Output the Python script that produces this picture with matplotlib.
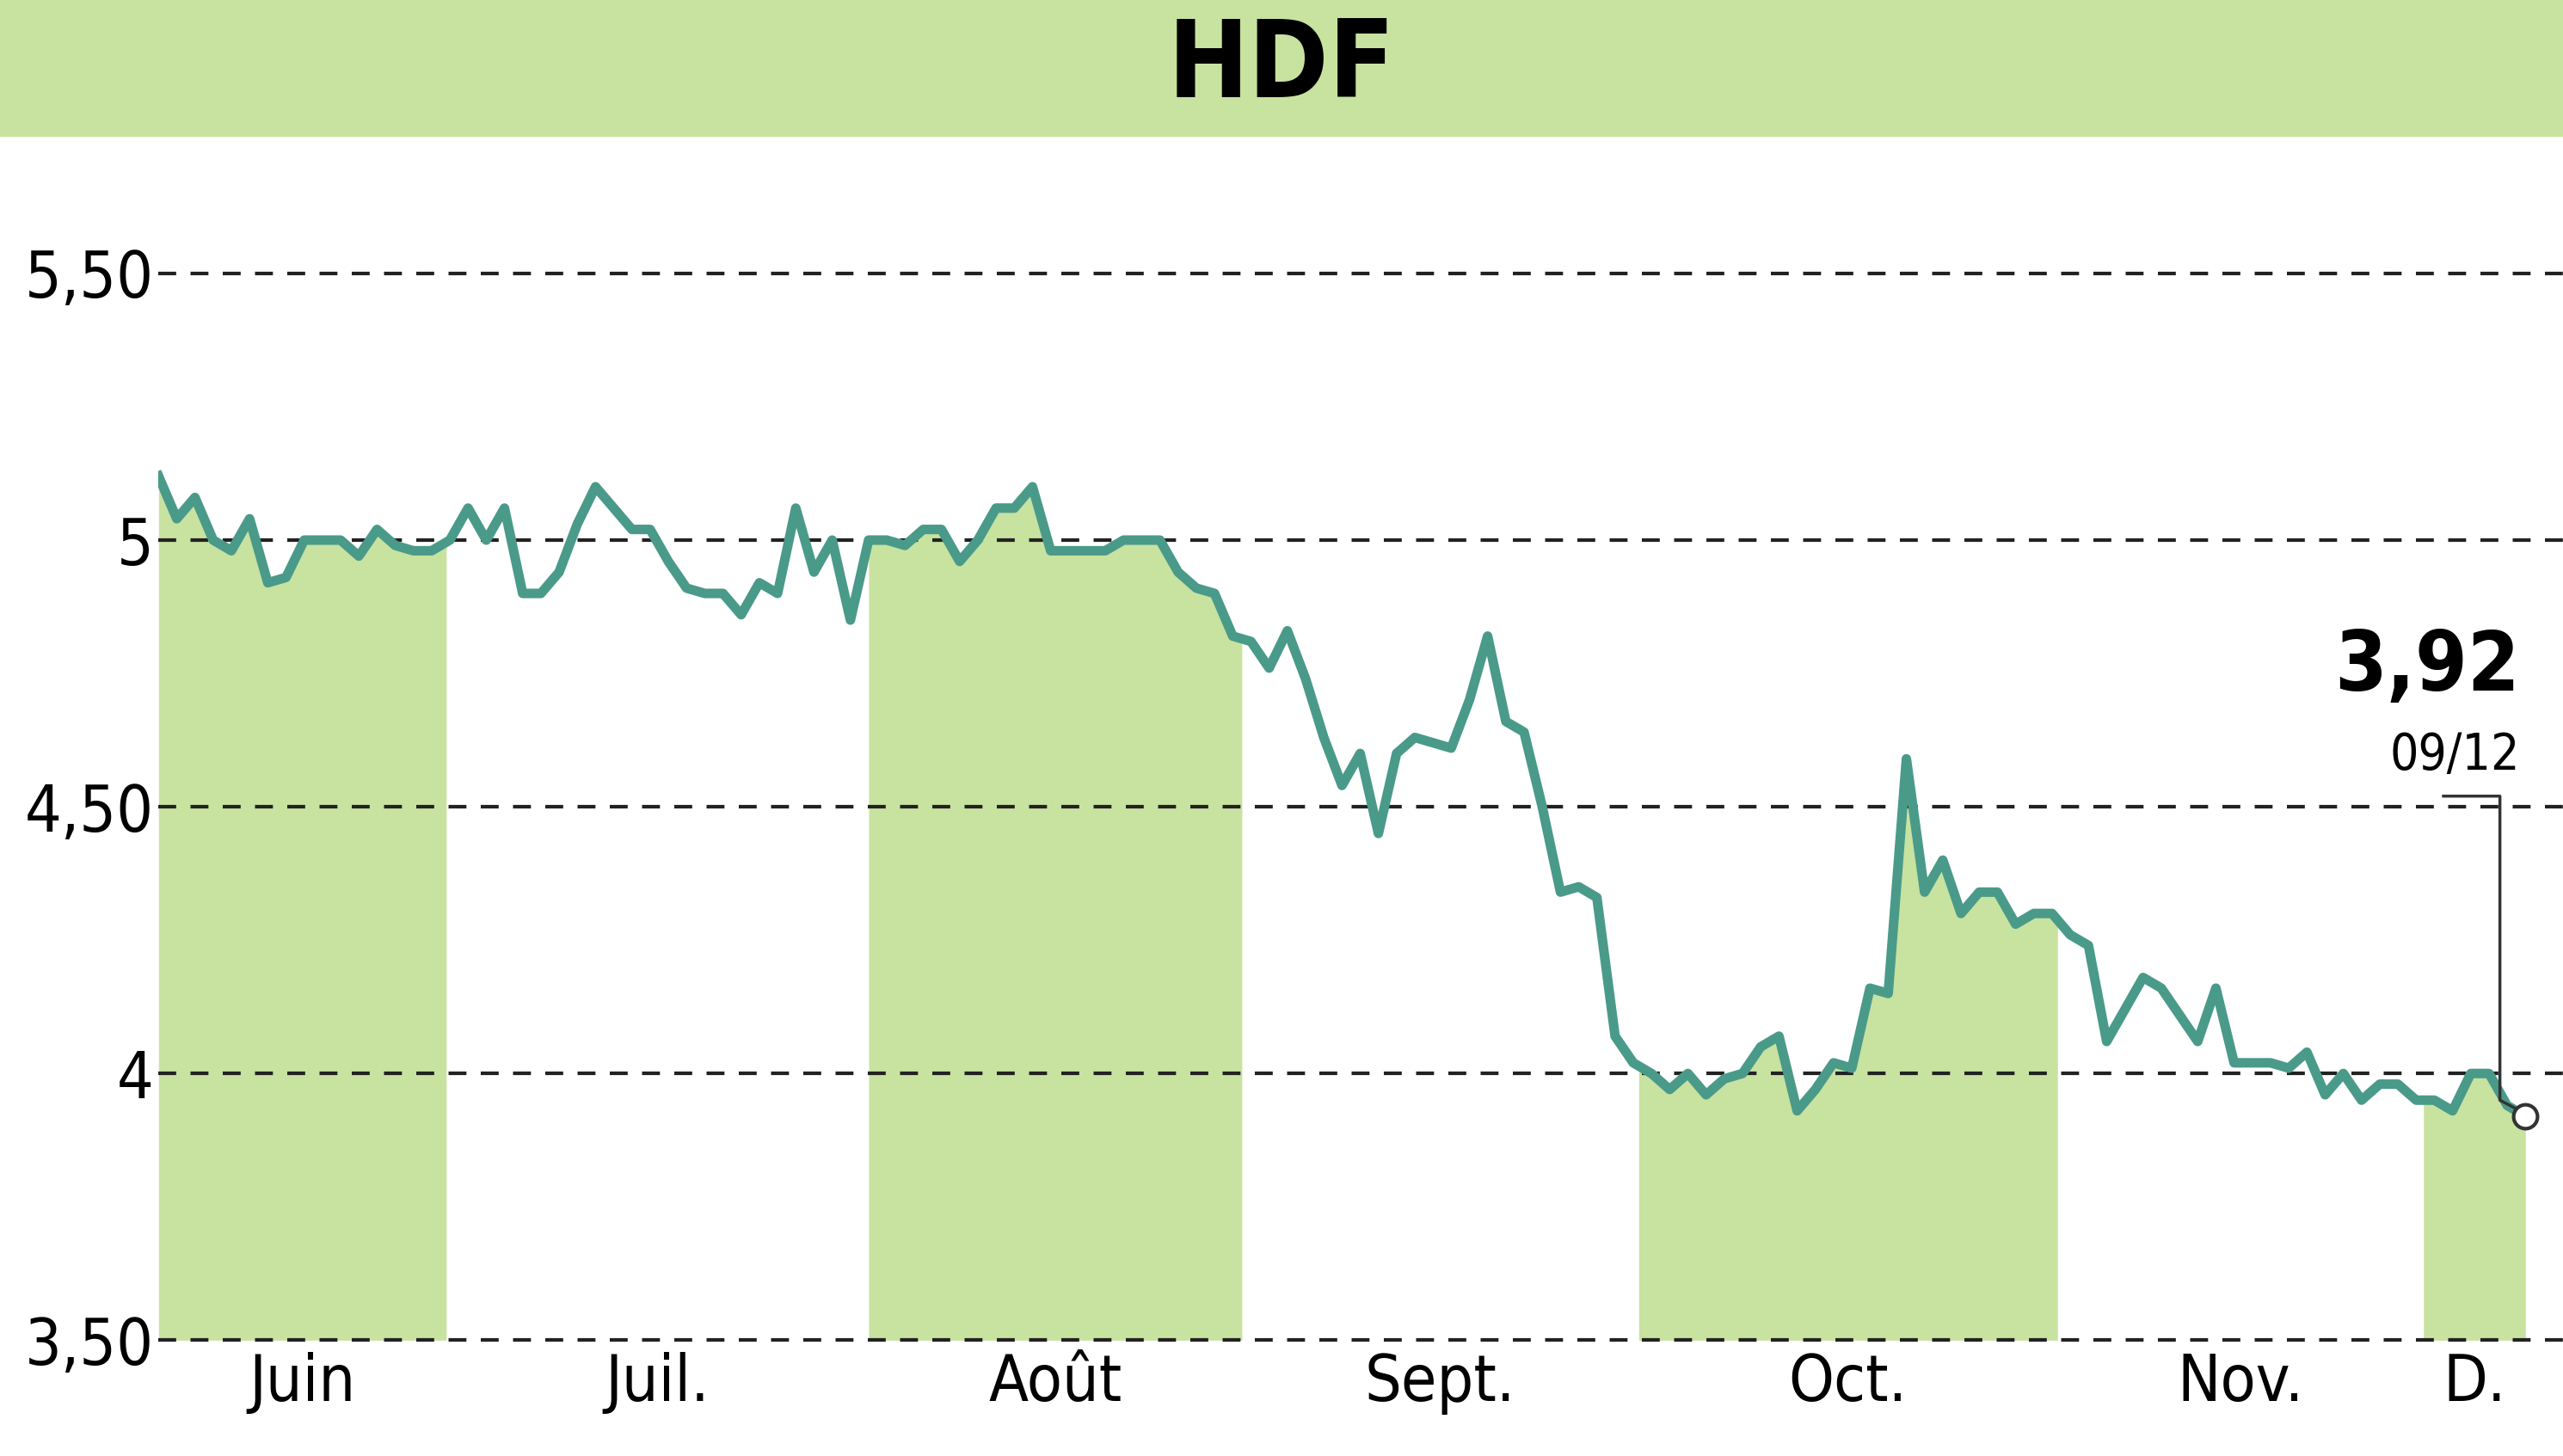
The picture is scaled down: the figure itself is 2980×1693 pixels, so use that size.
import matplotlib
matplotlib.use("Agg")
import matplotlib.pyplot as plt
import numpy as np

values = [5.12,5.04,5.08,5.00,4.98,5.04,4.92,4.93,5.00,5.00,5.00,4.97,5.02,4.99,4.98,4.98,
5.00,5.06,5.00,5.06,4.90,4.90,4.94,5.03,5.10,5.06,5.02,5.02,4.96,4.91,4.90,4.90,4.86,4.92,4.90,5.06,4.94,5.00,4.85,
5.00,5.00,4.99,5.02,5.02,4.96,5.00,5.06,5.06,5.10,4.98,4.98,4.98,4.98,5.00,5.00,5.00,4.94,4.91,4.90,4.82,
4.81,4.76,4.83,4.74,4.63,4.54,4.60,4.45,4.60,4.63,4.62,4.61,4.70,4.82,4.66,4.64,4.50,4.34,4.35,4.33,4.07,4.02,
4.00,3.97,4.00,3.96,3.99,4.00,4.05,4.07,3.93,3.97,4.02,4.01,4.16,4.15,4.59,4.34,4.40,4.30,4.34,4.34,4.28,4.30,4.30,
4.26,4.24,4.06,4.12,4.18,4.16,4.11,4.06,4.16,4.02,4.02,4.02,4.01,4.04,3.96,4.00,3.95,3.98,3.98,3.95,
3.95,3.93,4.00,4.00,3.94,3.92]
months = ["Juin","Juil.","Août","Sept.","Oct.","Nov.","D."]
month_bounds = [0,15.8,39,59.5,81.3,104.3,124.4,len(values)-1]
shaded = [True,False,True,False,True,False,True]
yticks = [3.5,4,4.5,5,5.5]
ylabels = ["3,50","4","4,50","5","5,50"]

green = "#c8e2a0"
lc = "#4a9a8a"
font = ["DejaVu Sans"]
plt.rcParams['font.family'] = font
plt.rcParams['font.stretch'] = 'condensed'

fig = plt.figure(figsize=(29.8,16.93), dpi=100)
fig.patches.append(plt.Rectangle((0,1-82/880),1,82/880,transform=fig.transFigure,color=green,zorder=0))
fig.text(0.5,1-41/880,"HDF",ha="center",va="center",fontsize=90,fontweight="bold")

ax = fig.add_axes([97/1568, 1-810/880, (1545-97)/1568, (810-133)/880])
x = np.arange(len(values))
v = np.array(values)
for i in range(len(months)):
    if shaded[i]:
        a, b = month_bounds[i], month_bounds[i+1]
        xx = np.linspace(a, b, 200)
        ax.fill_between(xx, 3.5, np.interp(xx, x, v), color=green, lw=0, zorder=1)
ax.plot(x, v, color=lc, lw=8, zorder=3, solid_joinstyle="round")
ax.plot(x[-1], v[-1], 'o', ms=20, mfc="white", mec="#333333", mew=3, zorder=5, clip_on=False)
ax.set_xlim(0, len(values)-1)
ax.set_ylim(3.5, 5.6)
for t in yticks:
    ax.plot([0, 1.02], [t, t], transform=ax.get_yaxis_transform(), ls=(0,(5,4)), color="#222222", lw=3, clip_on=False, zorder=2)
ax.set_yticks(yticks)
ax.set_yticklabels(ylabels)
centers = [(month_bounds[i]+month_bounds[i+1])/2 for i in range(len(months))]
ax.set_xticks(centers)
ax.set_xticklabels(months)
ax.tick_params(length=0, labelsize=54, pad=10)
ax.tick_params(axis='y', pad=4)
for s in ax.spines.values():
    s.set_visible(False)
ax.text(len(values)-1.3, 4.685, "3,92", ha="right", va="bottom", fontsize=70, fontweight="bold")
ax.text(len(values)-1.3, 4.55, "09/12", ha="right", va="bottom", fontsize=42)
xc = len(values)-2.4
ax.plot([len(values)-5.5, xc, xc, len(values)-1.3], [4.52,4.52,3.95,3.93], color="#333333", lw=2.5, zorder=4)
fig.savefig("out.png", dpi=100)
